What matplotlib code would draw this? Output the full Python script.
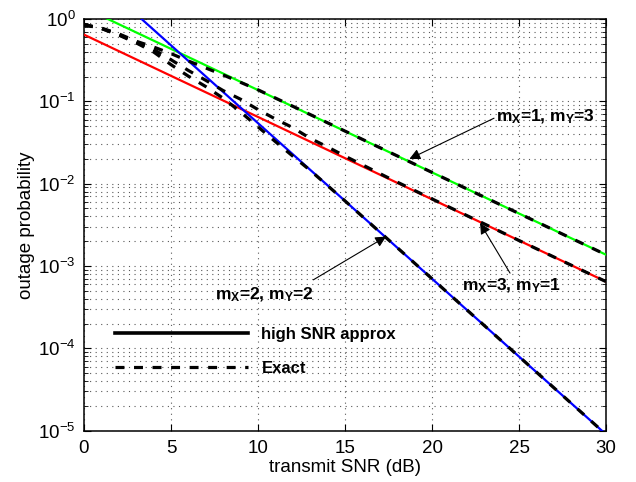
import matplotlib
matplotlib.use("Agg")
import matplotlib.pyplot as plt
from matplotlib.lines import Line2D
from matplotlib.ticker import LogLocator, NullFormatter, MultipleLocator

plt.rcParams["font.family"] = ["Liberation Sans", "DejaVu Sans"]
plt.rcParams["mathtext.fontset"] = "custom"
plt.rcParams["mathtext.rm"] = "Liberation Sans"
plt.rcParams["mathtext.bf"] = "Liberation Sans:bold"
plt.rcParams["mathtext.it"] = "Liberation Sans:italic"

# high SNR approximations (straight lines on the log scale)
snr_approx = [0, 5, 10, 15, 20, 25, 30]
approx_13 = [1.37, 0.434, 0.137, 0.0434, 0.0137, 0.00434, 0.00137]   # mX=1, mY=3
approx_31 = [0.646, 0.204, 0.0646, 0.0204, 0.00646, 0.00204, 0.000646]  # mX=3, mY=1
approx_22 = [4.22, 0.479, 0.0543, 0.00617, 7.0e-4, 7.94e-5, 9.0e-6]  # mX=2, mY=2

# exact outage probability
snr_13 = [0, 1, 2, 3, 4, 5, 6, 7, 8, 9, 10, 12, 15, 20, 25, 30]
exact_13 = [0.851, 0.776, 0.661, 0.537, 0.457, 0.380, 0.309, 0.254, 0.209,
            0.170, 0.138, 0.0871, 0.0435, 0.0137, 0.00434, 0.00137]

snr_31 = [0, 1, 2, 3, 4, 5, 6, 7, 8, 9, 10, 11, 12, 13, 14, 15, 17.5, 20, 25, 30]
exact_31 = [0.851, 0.767, 0.646, 0.519, 0.427, 0.320, 0.237, 0.180, 0.135,
            0.106, 0.0794, 0.0610, 0.0479, 0.0355, 0.0279, 0.0216, 0.01175,
            0.00653, 0.00204, 0.000646]

snr_22 = [0, 1, 2, 3, 4, 5, 6, 7, 8, 9, 10, 11, 12, 13, 15, 20, 25, 30]
exact_22 = [0.851, 0.767, 0.638, 0.513, 0.398, 0.279, 0.202, 0.151, 0.109,
            0.0741, 0.0490, 0.0324, 0.0216, 0.0145, 0.00617, 7.0e-4, 7.94e-5, 9.0e-6]

fig = plt.figure(figsize=(6.36, 4.82), dpi=100)
ax = fig.add_axes([0.132, 0.1064, 0.821, 0.8542])

lw_c = 1.6
ax.semilogy(snr_approx, approx_13, color="#00ff00", lw=lw_c, zorder=3)
ax.semilogy(snr_approx, approx_31, color="#ff0000", lw=lw_c, zorder=3)
ax.semilogy(snr_approx, approx_22, color="#0000ff", lw=lw_c, zorder=3)

dash = (0, (2.8, 3.0))
for s, p in [(snr_13, exact_13), (snr_31, exact_31), (snr_22, exact_22)]:
    ax.semilogy(s, p, color="k", lw=2.3, linestyle=dash, zorder=4)

ax.set_xlim(0, 30)
ax.set_ylim(1e-5, 1)
ax.xaxis.set_major_locator(MultipleLocator(5))
ax.yaxis.set_major_locator(LogLocator(base=10, numticks=10))
ax.yaxis.set_minor_locator(LogLocator(base=10, subs=range(2, 10), numticks=20))
ax.yaxis.set_minor_formatter(NullFormatter())

grid_style = dict(color="0.35", linestyle=(0, (1, 4)), linewidth=0.8)
ax.grid(True, which="major", axis="both", **grid_style)
ax.grid(True, which="minor", axis="y", **grid_style)
ax.set_axisbelow(True)

ax.tick_params(which="both", direction="in", top=True, right=True, labelsize=13.5)
ax.tick_params(which="major", length=5, width=0.8)
ax.tick_params(which="minor", length=3, width=0.6)
ax.tick_params(axis="x", pad=7)
ax.tick_params(axis="y", pad=6)
for sp in ax.spines.values():
    sp.set_linewidth(1.1)

ax.set_xlabel("transmit SNR (dB)", fontsize=13.5, labelpad=1)
ax.set_ylabel("outage probability", fontsize=13.5, labelpad=2)

# curve labels with arrows
txt = dict(fontsize=12.5, fontweight="bold", ha="left", va="baseline")
ax.text(23.68, 0.0567, r"m$_\mathbf{X}$=1, m$_\mathbf{Y}$=3", **txt)
ax.text(21.7, 5.14e-4, r"m$_\mathbf{X}$=3, m$_\mathbf{Y}$=1", **txt)
ax.text(7.53, 3.89e-4, r"m$_\mathbf{X}$=2, m$_\mathbf{Y}$=2", **txt)

arrow = dict(arrowstyle="-|>", color="k", lw=0.8, mutation_scale=16,
             shrinkA=0, shrinkB=0)
ax.annotate("", xy=(18.7, 0.020), xytext=(23.56, 0.0624), arrowprops=arrow)
ax.annotate("", xy=(22.76, 3.32e-3), xytext=(24.48, 8.2e-4), arrowprops=arrow)
ax.annotate("", xy=(17.36, 2.28e-3), xytext=(13.18, 6.8e-4), arrowprops=arrow)

handles = [Line2D([], [], color="k", lw=2.6),
           Line2D([], [], color="k", lw=2.3, linestyle=dash)]
ax.legend(handles, ["high SNR approx", "Exact"], loc="center left",
          bbox_to_anchor=(0.059, 0.1925), frameon=False, borderpad=0,
          borderaxespad=0, handlelength=8.0, handletextpad=0.8,
          labelspacing=1.1, prop=dict(size=12, weight="bold"))

fig.savefig("out.png", dpi=100)
